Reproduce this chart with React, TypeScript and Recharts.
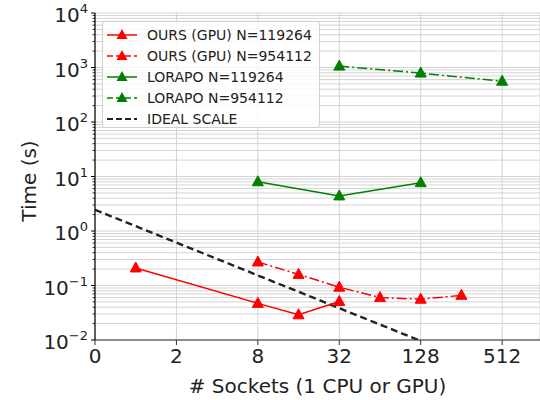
import React from "react";
import { LineChart, Line, XAxis, YAxis, CartesianGrid } from "recharts";

// socket counts and measured times (s)
const oursSmallSockets = [1, 8, 16, 32];
const oursSmallTime = [0.21, 0.047, 0.029, 0.051];

const oursLargeSockets = [8, 16, 32, 64, 128, 256];
const oursLargeTime = [0.27, 0.16, 0.093, 0.06, 0.056, 0.066];

const lorapoSmallSockets = [8, 32, 128];
const lorapoSmallTime = [8.0, 4.4, 7.7];

const lorapoLargeSockets = [32, 128, 512];
const lorapoLargeTime = [1060, 790, 560];

const idealSockets = [0.5, 128];
const idealTime = [2.45, 0.0096];

// x axis is log2(sockets); first tick is labelled "0"
const xTicks = [-1, 1, 3, 5, 7, 9];
const xTickLabels = ["0", "2", "8", "32", "128", "512"];

const yMajor = [0.01, 0.1, 1, 10, 100, 1000, 10000];
const yExponents = ["\u22122", "\u22121", "0", "1", "2", "3", "4"];
const yMinor: number[] = [];
for (let e = -2; e < 4; e++) {
  for (let m = 2; m <= 9; m++) yMinor.push(m * Math.pow(10, e));
}
const yTicks = [...yMajor, ...yMinor].sort((a, b) => a - b);

const toPoints = (sockets: number[], times: number[]) =>
  sockets.map((s, i) => ({ x: Math.log2(s), y: times[i] }));

const FONT = "'DejaVu Sans', Verdana, sans-serif";
const RED = "#ff0000";
const GREEN = "#008000";
const DASHDOT = "10 3 2 3";

function Triangle(props: any) {
  const { cx, cy, fill } = props;
  if (cx == null || cy == null) return null;
  return (
    <polygon
      points={`${cx},${cy - 6} ${cx - 5.5},${cy + 4} ${cx + 5.5},${cy + 4}`}
      fill={fill}
      stroke={fill}
      strokeWidth={1}
    />
  );
}

function YTick(props: any) {
  const { x, y, payload } = props;
  const idx = yMajor.findIndex((v) => Math.abs(v - payload.value) / v < 1e-6);
  if (idx < 0) {
    return <line x1={x - 2.5} x2={x} y1={y} y2={y} stroke="#000" strokeWidth={0.8} />;
  }
  return (
    <g>
      <line x1={x - 4} x2={x} y1={y} y2={y} stroke="#000" strokeWidth={1} />
      <text x={x - 7} y={y + 9} textAnchor="end" fill="#222" fontFamily={FONT}>
        <tspan fontSize={20}>10</tspan>
        <tspan fontSize={13} dy={-9}>
          {yExponents[idx]}
        </tspan>
      </text>
    </g>
  );
}

function XTick(props: any) {
  const { x, y, payload } = props;
  const idx = xTicks.indexOf(payload.value);
  return (
    <text x={x} y={y + 16} textAnchor="middle" fill="#222" fontSize={20} fontFamily={FONT}>
      {xTickLabels[idx]}
    </text>
  );
}

const legendItems = [
  { label: "OURS (GPU) N=119264", color: RED, dash: undefined, marker: true },
  { label: "OURS (GPU) N=954112", color: RED, dash: "6 3", marker: true },
  { label: "LORAPO N=119264", color: GREEN, dash: undefined, marker: true },
  { label: "LORAPO N=954112", color: GREEN, dash: "6 3", marker: true },
  { label: "IDEAL SCALE", color: "#222", dash: "6 3", marker: false },
];

export default function App() {
  return (
    <div style={{ position: "absolute", left: 0, top: 0, width: 540, height: 400, background: "#fff" }}>
      <LineChart width={540} height={400} margin={{ top: 13, right: 0, bottom: 0, left: 15 }}>
        <CartesianGrid stroke="#d3d3d3" strokeWidth={1} />
        <XAxis
          type="number"
          dataKey="x"
          domain={[-1, 9.93]}
          ticks={xTicks}
          allowDataOverflow
          height={60}
          tick={<XTick />}
          tickSize={5}
          tickLine={{ stroke: "#333" }}
          axisLine={{ stroke: "#333", strokeWidth: 1.2 }}
          label={{
            value: "# Sockets (1 CPU or GPU)",
            position: "insideBottom",
            offset: 7,
            fontSize: 20,
            fill: "#222",
            fontFamily: FONT,
          }}
        />
        <YAxis
          type="number"
          dataKey="y"
          scale="log"
          domain={[0.01, 10000]}
          ticks={yTicks}
          allowDataOverflow
          width={80}
          tickLine={false}
          tickSize={0}
          tickMargin={0}
          interval={0}
          tick={<YTick />}
          axisLine={{ stroke: "#000", strokeWidth: 1.2 }}
          label={{
            content: () => (
              <text
                x={29}
                y={181}
                transform="rotate(-90 29 181)"
                textAnchor="middle"
                dominantBaseline="central"
                fontSize={20}
                fill="#222"
                fontFamily={FONT}
              >
                Time (s)
              </text>
            ),
          }}
        />
        <Line
          data={toPoints(idealSockets, idealTime)}
          dataKey="y"
          stroke="#222"
          strokeWidth={2.4}
          strokeDasharray="7 4"
          dot={false}
          activeDot={false}
          isAnimationActive={false}
        />
        <Line
          data={toPoints(oursSmallSockets, oursSmallTime)}
          dataKey="y"
          stroke={RED}
          strokeWidth={1.5}
          dot={<Triangle fill={RED} />}
          activeDot={false}
          isAnimationActive={false}
        />
        <Line
          data={toPoints(oursLargeSockets, oursLargeTime)}
          dataKey="y"
          stroke={RED}
          strokeWidth={1.5}
          strokeDasharray={DASHDOT}
          dot={<Triangle fill={RED} />}
          activeDot={false}
          isAnimationActive={false}
        />
        <Line
          data={toPoints(lorapoSmallSockets, lorapoSmallTime)}
          dataKey="y"
          stroke={GREEN}
          strokeWidth={1.5}
          dot={<Triangle fill={GREEN} />}
          activeDot={false}
          isAnimationActive={false}
        />
        <Line
          data={toPoints(lorapoLargeSockets, lorapoLargeTime)}
          dataKey="y"
          stroke={GREEN}
          strokeWidth={1.5}
          strokeDasharray={DASHDOT}
          dot={<Triangle fill={GREEN} />}
          activeDot={false}
          isAnimationActive={false}
        />
      </LineChart>
      <div
        style={{
          position: "absolute",
          left: 102,
          top: 21,
          width: 218,
          height: 107,
          boxSizing: "border-box",
          border: "1px solid #d0d0d0",
          borderRadius: 3,
          background: "rgba(255,255,255,0.8)",
          fontFamily: FONT,
          fontSize: 14,
          color: "#222",
          paddingTop: 2,
        }}
      >
        {legendItems.map((it) => (
          <div key={it.label} style={{ display: "flex", alignItems: "center", height: 21 }}>
            <svg width={44} height={16} style={{ flexShrink: 0 }}>
              <line
                x1={4}
                x2={34}
                y1={8}
                y2={8}
                stroke={it.color}
                strokeWidth={it.marker ? 1.5 : 2.2}
                strokeDasharray={it.dash}
              />
              {it.marker && <polygon points="19,2 13.5,12 24.5,12" fill={it.color} />}
            </svg>
            <span style={{ whiteSpace: "nowrap" }}>{it.label}</span>
          </div>
        ))}
      </div>
    </div>
  );
}
